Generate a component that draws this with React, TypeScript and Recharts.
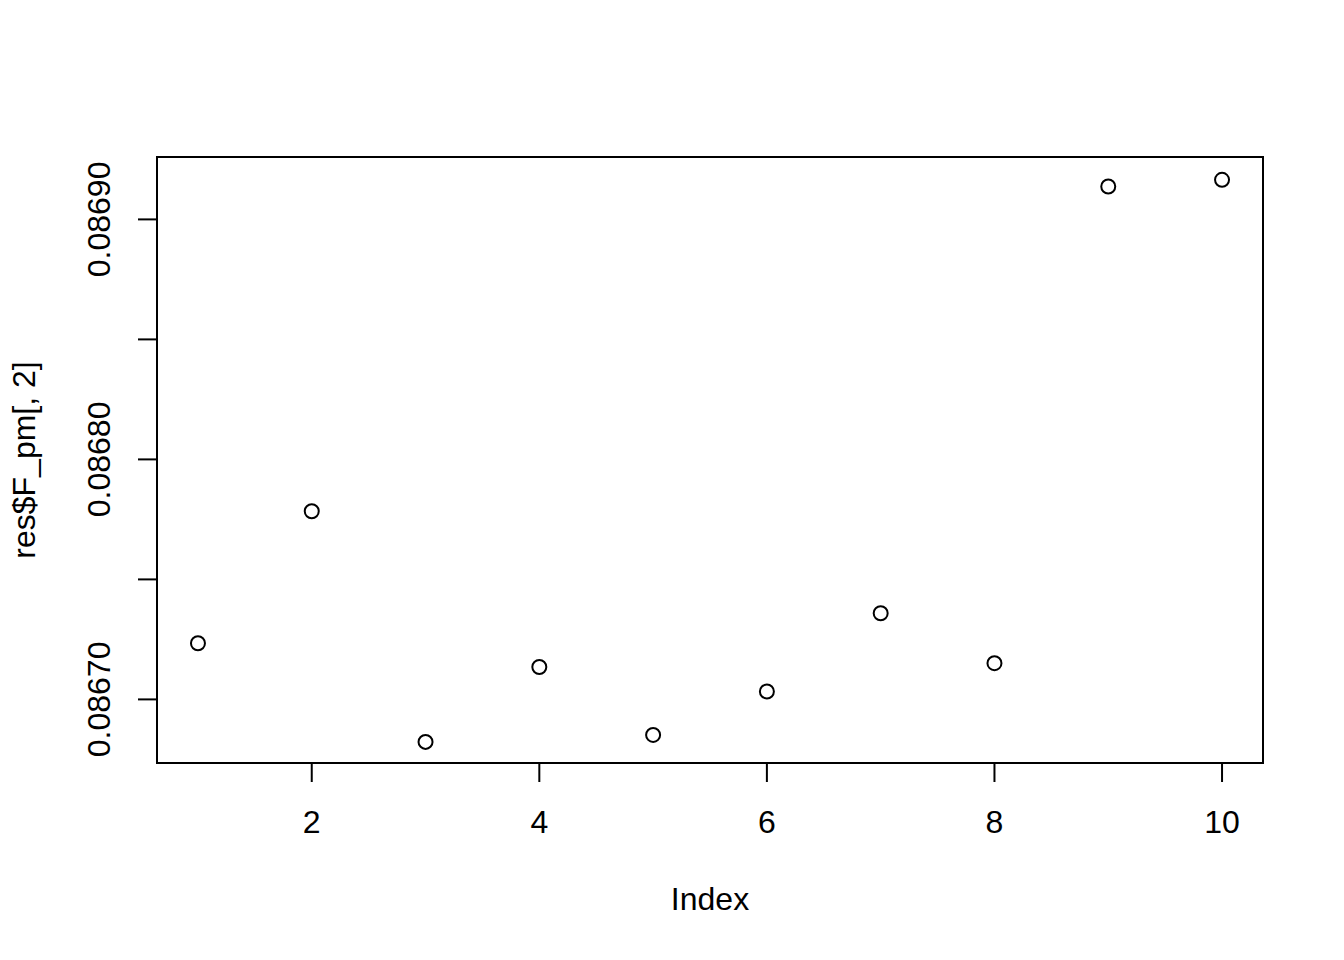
import React from "react";
import { ScatterChart, Scatter, XAxis, YAxis, ReferenceArea, Label } from "recharts";

const indexValues = [1, 2, 3, 4, 5, 6, 7, 8, 9, 10];
const fpmValues = [
  0.0867234, 0.0867784, 0.0866823, 0.0867135, 0.0866852,
  0.0867033, 0.0867359, 0.0867151, 0.0869137, 0.0869165,
];
const xTicks = [2, 4, 6, 8, 10];
const yTicks = [0.0867, 0.08675, 0.0868, 0.08685, 0.0869];
const yLabelled = [0.0867, 0.0868, 0.0869];
const xDomain: [number, number] = [0.64, 10.36];
const yDomain: [number, number] = [0.0866735, 0.086926];

const data = indexValues.map((x, i) => ({ x, y: fpmValues[i] }));

const FONT = "'Liberation Sans', Arial, Helvetica, sans-serif";

const YTick = (props: any) => {
  const { x, y, payload } = props;
  const v = payload.value as number;
  if (!yLabelled.some((t) => Math.abs(t - v) < 1e-9)) return <g />;
  const tx = x - 28;
  return (
    <text
      x={tx}
      y={y}
      transform={`rotate(-90, ${tx}, ${y})`}
      textAnchor="middle"
      fontSize={32}
      fontFamily={FONT}
      fill="#000"
    >
      {v.toFixed(5)}
    </text>
  );
};

const XTick = (props: any) => {
  const { x, y, payload } = props;
  return (
    <text x={x} y={y + 23} textAnchor="middle" fontSize={32} fontFamily={FONT} fill="#000">
      {String(payload.value)}
    </text>
  );
};

const OpenCircle = (props: any) => {
  const { cx, cy } = props;
  if (cx == null || cy == null) return <g />;
  return <circle cx={cx} cy={cy} r={7} fill="none" stroke="#000" strokeWidth={2} />;
};

export default function App() {
  return (
    <div style={{ position: "absolute", left: 0, top: 0, width: 1344, height: 960, background: "#fff" }}>
      <ScatterChart
        width={1344}
        height={960}
        margin={{ top: 157, right: 81, bottom: 0, left: 0 }}
      >
        <XAxis
          type="number"
          dataKey="x"
          domain={xDomain}
          ticks={xTicks}
          allowDataOverflow
          axisLine={false}
          tickLine={{ stroke: "#000", strokeWidth: 2 }}
          tickSize={19}
          tickMargin={28}
          height={197}
          tick={<XTick />}
        >
          <Label
            content={(p: any) => {
              const vb = p.viewBox || { x: 157, width: 1106 };
              return (
                <text
                  x={vb.x + vb.width / 2}
                  y={910}
                  textAnchor="middle"
                  fontSize={32}
                  fontFamily={FONT}
                  fill="#000"
                >
                  Index
                </text>
              );
            }}
          />
        </XAxis>
        <YAxis
          type="number"
          dataKey="y"
          domain={yDomain}
          ticks={yTicks}
          allowDataOverflow
          axisLine={false}
          tickLine={{ stroke: "#000", strokeWidth: 2 }}
          tickSize={19}
          tickMargin={0}
          width={157}
          tick={<YTick />}
        >
          <Label
            content={(p: any) => {
              const vb = p.viewBox || { y: 157, height: 606 };
              const cy = vb.y + vb.height / 2;
              return (
                <text
                  x={35}
                  y={cy}
                  transform={`rotate(-90, 35, ${cy})`}
                  textAnchor="middle"
                  fontSize={32}
                  fontFamily={FONT}
                  fill="#000"
                >
                  res$F_pm[, 2]
                </text>
              );
            }}
          />
        </YAxis>
        <ReferenceArea
          x1={xDomain[0]}
          x2={xDomain[1]}
          y1={yDomain[0]}
          y2={yDomain[1]}
          fill="none"
          fillOpacity={0}
          stroke="#000"
          strokeWidth={2}
          ifOverflow="visible"
        />
        <Scatter data={data} shape={<OpenCircle />} isAnimationActive={false} />
      </ScatterChart>
    </div>
  );
}
